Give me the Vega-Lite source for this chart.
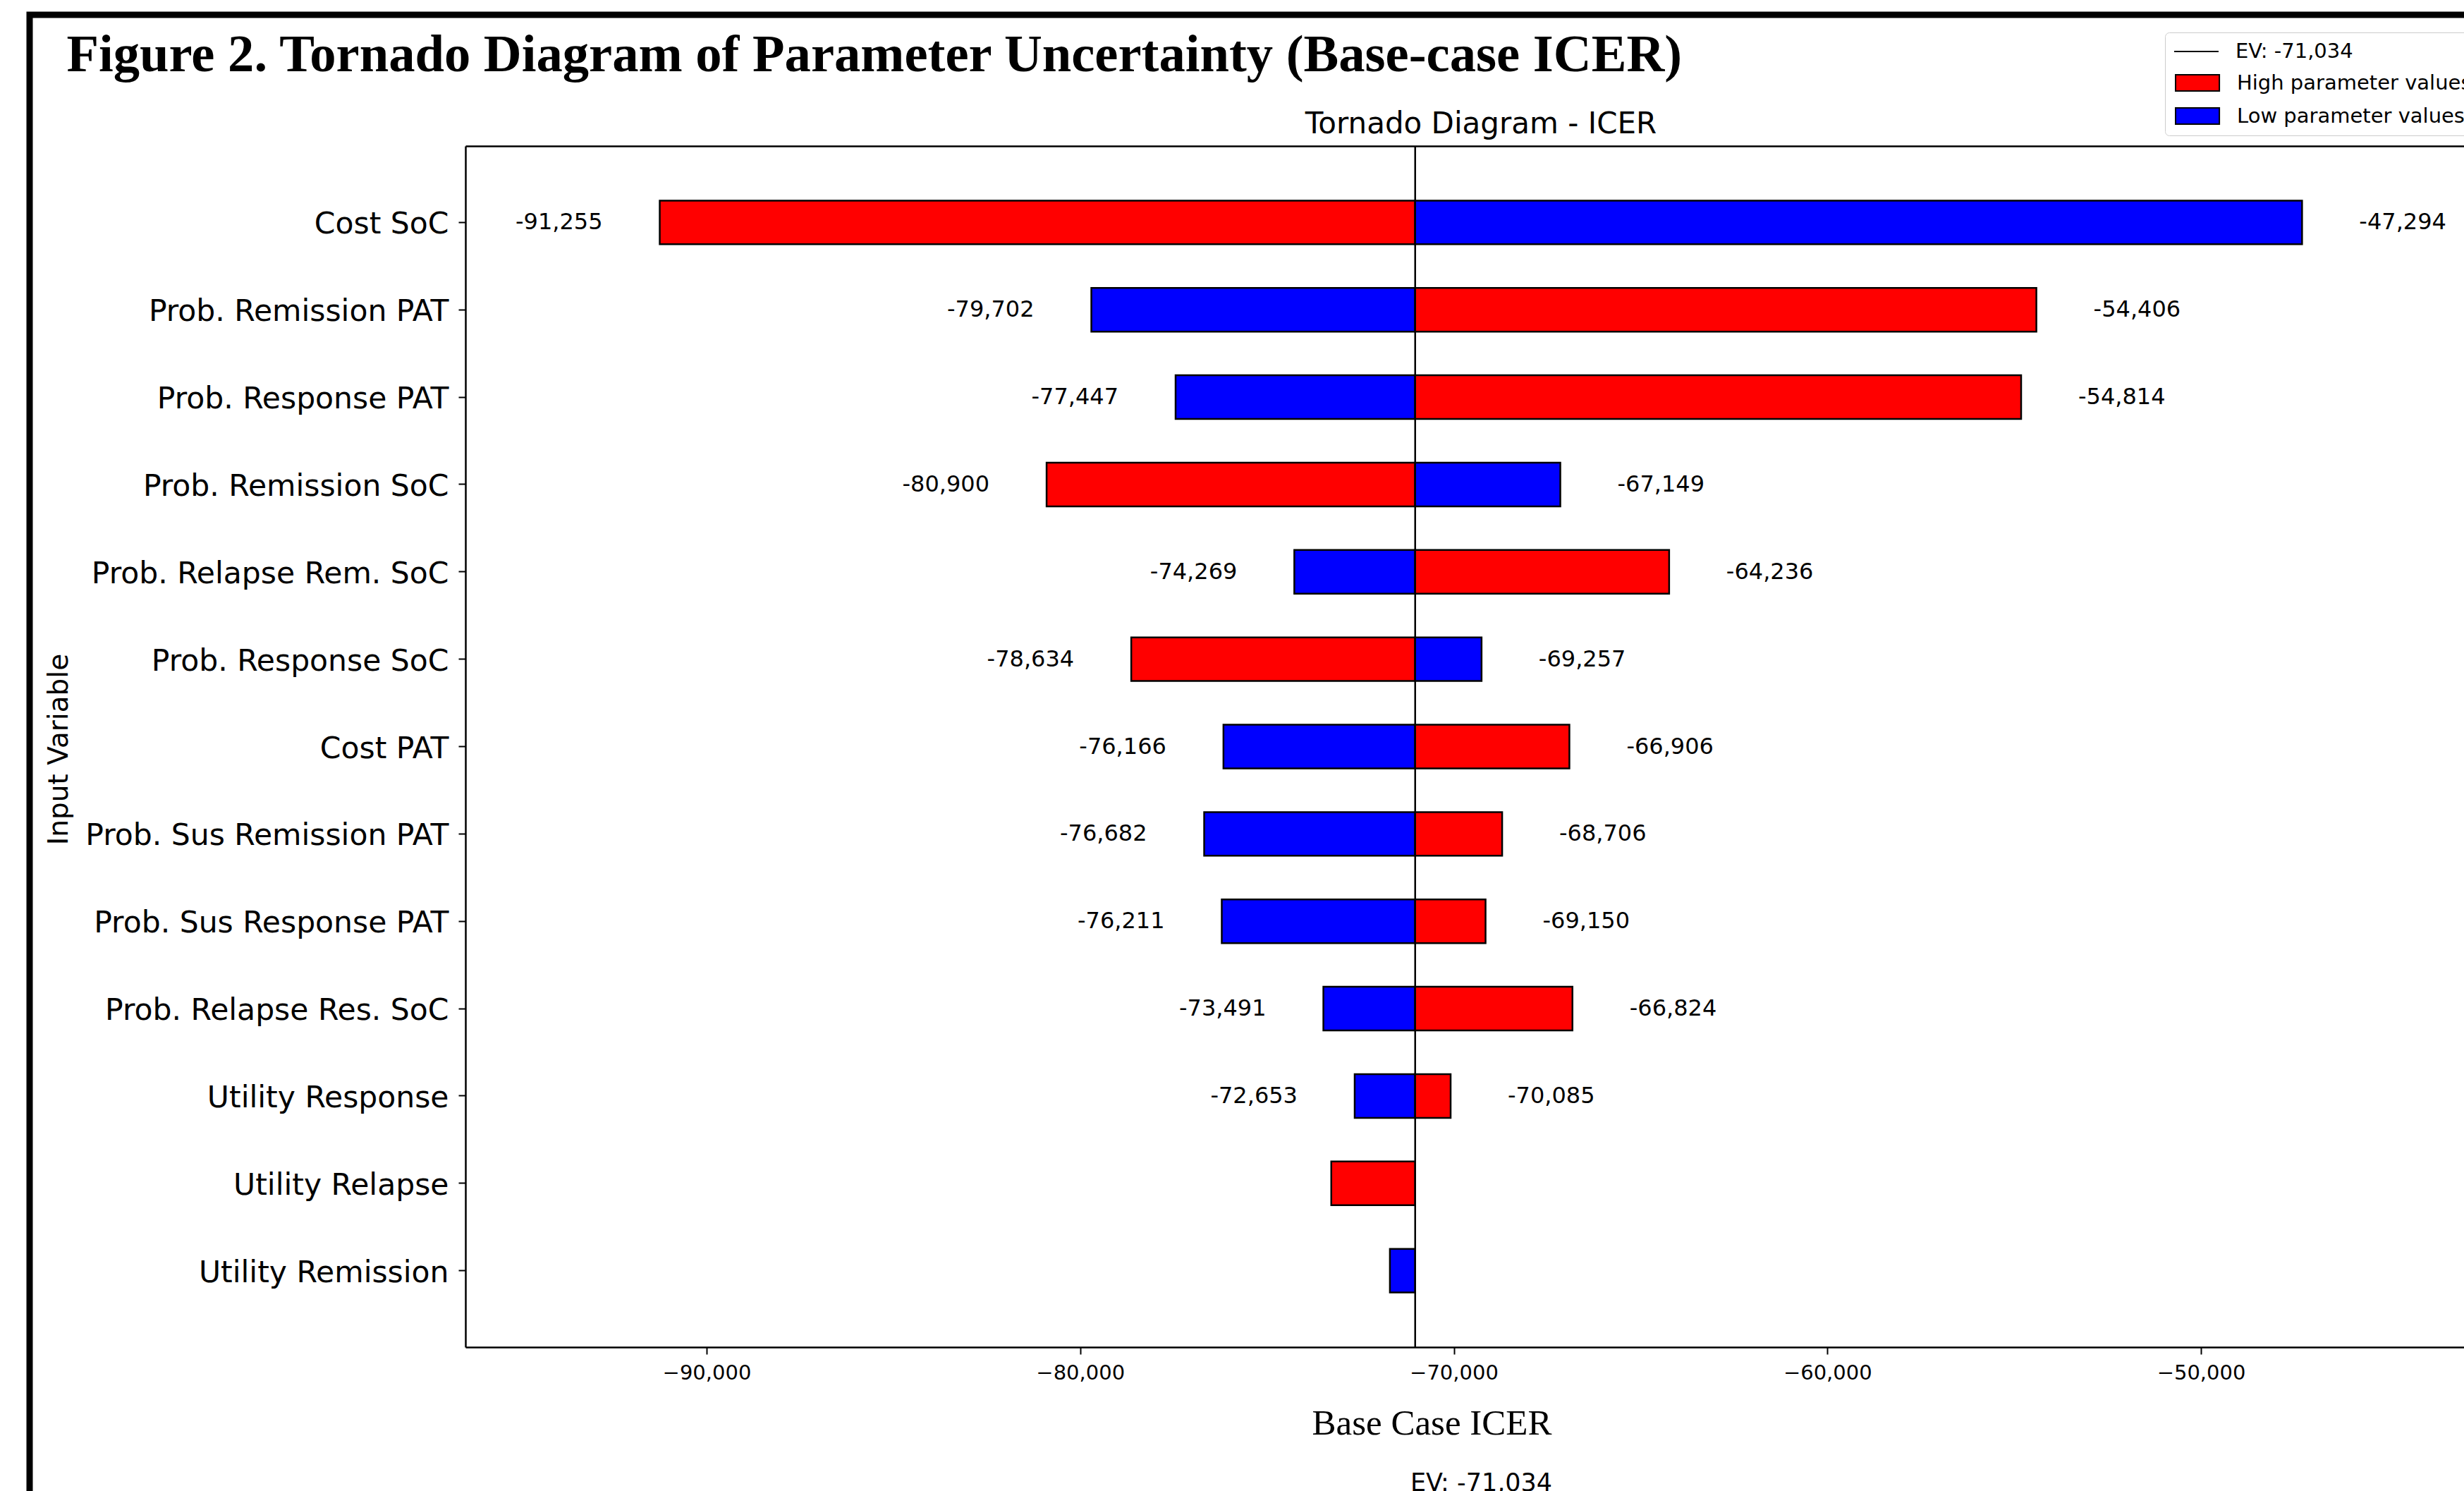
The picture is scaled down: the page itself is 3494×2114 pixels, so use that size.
{
  "$schema": "https://vega.github.io/schema/vega-lite/v6.json",
  "autosize": {"type": "none"},
  "padding": {"left": 42, "top": 21, "right": 0, "bottom": 0},
  "width": 3452,
  "height": 2093,
  "background": "white",
  "config": {
    "view": {"stroke": "black", "strokeWidth": 9, "strokeDash": [3452, 5545], "fill": "white"},
    "axis": {"grid": false, "domainColor": "black", "tickColor": "black", "labelColor": "black", "titleColor": "black", "labelFont": "DejaVu Sans", "titleFont": "DejaVu Sans", "titleFontWeight": "normal"}
  },
  "datasets": {
    "bars": [
      {"param": "Cost SoC", "type": "High parameter values", "value": -91255, "label": "-91,255"},
      {"param": "Cost SoC", "type": "Low parameter values", "value": -47294, "label": "-47,294"},
      {"param": "Prob. Remission PAT", "type": "Low parameter values", "value": -79702, "label": "-79,702"},
      {"param": "Prob. Remission PAT", "type": "High parameter values", "value": -54406, "label": "-54,406"},
      {"param": "Prob. Response PAT", "type": "Low parameter values", "value": -77447, "label": "-77,447"},
      {"param": "Prob. Response PAT", "type": "High parameter values", "value": -54814, "label": "-54,814"},
      {"param": "Prob. Remission SoC", "type": "High parameter values", "value": -80900, "label": "-80,900"},
      {"param": "Prob. Remission SoC", "type": "Low parameter values", "value": -67149, "label": "-67,149"},
      {"param": "Prob. Relapse Rem. SoC", "type": "Low parameter values", "value": -74269, "label": "-74,269"},
      {"param": "Prob. Relapse Rem. SoC", "type": "High parameter values", "value": -64236, "label": "-64,236"},
      {"param": "Prob. Response SoC", "type": "High parameter values", "value": -78634, "label": "-78,634"},
      {"param": "Prob. Response SoC", "type": "Low parameter values", "value": -69257, "label": "-69,257"},
      {"param": "Cost PAT", "type": "Low parameter values", "value": -76166, "label": "-76,166"},
      {"param": "Cost PAT", "type": "High parameter values", "value": -66906, "label": "-66,906"},
      {"param": "Prob. Sus Remission PAT", "type": "Low parameter values", "value": -76682, "label": "-76,682"},
      {"param": "Prob. Sus Remission PAT", "type": "High parameter values", "value": -68706, "label": "-68,706"},
      {"param": "Prob. Sus Response PAT", "type": "Low parameter values", "value": -76211, "label": "-76,211"},
      {"param": "Prob. Sus Response PAT", "type": "High parameter values", "value": -69150, "label": "-69,150"},
      {"param": "Prob. Relapse Res. SoC", "type": "Low parameter values", "value": -73491, "label": "-73,491"},
      {"param": "Prob. Relapse Res. SoC", "type": "High parameter values", "value": -66824, "label": "-66,824"},
      {"param": "Utility Response", "type": "Low parameter values", "value": -72653, "label": "-72,653"},
      {"param": "Utility Response", "type": "High parameter values", "value": -70085, "label": "-70,085"},
      {"param": "Utility Relapse", "type": "High parameter values", "value": -73280, "label": ""},
      {"param": "Utility Remission", "type": "Low parameter values", "value": -71710, "label": ""}
    ],
    "ev": [{"ev": -71034, "name": "EV: -71,034"}]
  },
  "data": {"name": "bars"},
  "resolve": {"scale": {"y": "independent"}, "axis": {"x": "independent", "y": "independent"}},
  "layer": [
    {
      "mark": {"type": "bar", "stroke": "black", "strokeWidth": 2.5},
      "encoding": {
        "x": {
          "field": "value", "type": "quantitative",
          "scale": {"domain": [-96456, -41940], "range": [618, 3506], "zero": false, "nice": false},
          "axis": {"orient": "bottom", "offset": -204, "values": [-90000, -80000, -70000, -60000, -50000], "format": ",.0f", "domainWidth": 2.5, "tickSize": 10, "tickWidth": 2, "labelFontSize": 29, "labelPadding": 12, "title": "Base Case ICER", "titleFont": "Liberation Serif", "titleFontSize": 51, "titleX": 1988, "titleY": 123, "titleBaseline": "alphabetic", "titleAlign": "center"}
        },
        "x2": {"datum": -71034},
        "y": {
          "field": "param", "type": "nominal",
          "scale": {"type": "band", "domain": ["Cost SoC", "Prob. Remission PAT", "Prob. Response PAT", "Prob. Remission SoC", "Prob. Relapse Rem. SoC", "Prob. Response SoC", "Cost PAT", "Prob. Sus Remission PAT", "Prob. Sus Response PAT", "Prob. Relapse Res. SoC", "Utility Response", "Utility Relapse", "Utility Remission"], "range": [186, 1889], "paddingInner": 0.5, "paddingOuter": 0.625},
          "axis": {"orient": "left", "offset": -618, "domainWidth": 2.5, "tickSize": 10, "tickWidth": 2, "labelFontSize": 42.5, "labelPadding": 14, "labelOffset": 3, "labelLimit": 1000, "title": "Input Variable", "titleFontSize": 39, "titleX": -564.5, "titleY": 1041, "titleBaseline": "alphabetic", "titleAlign": "center"}
        },
        "color": {
          "field": "type", "type": "nominal",
          "scale": {"domain": ["High parameter values", "Low parameter values"], "range": ["#ff0000", "#0000ff"]},
          "legend": {
            "title": " ", "titleFontSize": 29, "titlePadding": 16,
            "orient": "none", "legendX": 3028, "legendY": 25,
            "labelFont": "DejaVu Sans", "labelFontSize": 29, "labelColor": "black", "labelLimit": 1000,
            "symbolType": "M-1,-1H4.4V1H-1Z", "symbolSize": 529, "labelOffset": 61, "rowPadding": 16, "padding": 12,
            "symbolStrokeColor": "black", "symbolStrokeWidth": 2, "symbolOpacity": 1,
            "strokeColor": "#cccccc", "fillColor": "white", "cornerRadius": 6
          }
        }
      }
    },
    {
      "transform": [{"filter": "datum.value < -71034 && datum.label != ''"}],
      "mark": {"type": "text", "align": "right", "baseline": "middle", "dx": -81, "font": "DejaVu Sans", "fontSize": 32, "color": "black"},
      "encoding": {
        "x": {"field": "value", "type": "quantitative", "axis": {"orient": "top", "offset": 0, "domain": false, "ticks": false, "labels": false, "title": "Figure 2. Tornado Diagram of Parameter Uncertainty (Base-case ICER)", "titleFont": "Liberation Serif", "titleFontWeight": "bold", "titleFontSize": 74.6, "titleX": 52, "titleY": 79, "titleAlign": "left", "titleBaseline": "alphabetic"}},
        "y": {"field": "param", "type": "nominal", "scale": {"type": "band", "domain": ["Cost SoC", "Prob. Remission PAT", "Prob. Response PAT", "Prob. Remission SoC", "Prob. Relapse Rem. SoC", "Prob. Response SoC", "Cost PAT", "Prob. Sus Remission PAT", "Prob. Sus Response PAT", "Prob. Relapse Res. SoC", "Utility Response", "Utility Relapse", "Utility Remission"], "range": [186, 1889], "paddingInner": 0.5, "paddingOuter": 0.625}, "axis": null},
        "text": {"field": "label"}
      }
    },
    {
      "transform": [{"filter": "datum.value > -71034 && datum.label != ''"}],
      "mark": {"type": "text", "align": "left", "baseline": "middle", "dx": 81, "font": "DejaVu Sans", "fontSize": 32, "color": "black"},
      "encoding": {
        "x": {"field": "value", "type": "quantitative", "axis": null},
        "y": {"field": "param", "type": "nominal", "scale": {"type": "band", "domain": ["Cost SoC", "Prob. Remission PAT", "Prob. Response PAT", "Prob. Remission SoC", "Prob. Relapse Rem. SoC", "Prob. Response SoC", "Cost PAT", "Prob. Sus Remission PAT", "Prob. Sus Response PAT", "Prob. Relapse Res. SoC", "Utility Response", "Utility Relapse", "Utility Remission"], "range": [186, 1889], "paddingInner": 0.5, "paddingOuter": 0.625}, "axis": null},
        "text": {"field": "label"}
      }
    },
    {
      "data": {"name": "ev"},
      "mark": {"type": "rule", "strokeWidth": 2.5, "color": "black"},
      "encoding": {
        "x": {"field": "ev", "type": "quantitative", "axis": {"orient": "top", "offset": -186, "domainWidth": 2.5, "ticks": false, "labels": false, "title": "Tornado Diagram - ICER", "titleFontSize": 42, "titleX": 2057.5, "titleY": -19, "titleBaseline": "alphabetic", "titleAlign": "center"}},
        "y": {"datum": 0, "type": "quantitative", "scale": {"domain": [0, 1], "range": [1889, 186]}, "axis": {"orient": "right", "domain": false, "ticks": false, "labels": false, "title": "EV: -71,034", "titleAngle": 0, "titleFontSize": 35, "titleX": -1394, "titleY": 2092, "titleBaseline": "alphabetic", "titleAlign": "center"}},
        "y2": {"datum": 1},
        "strokeDash": {
          "field": "name", "type": "nominal",
          "scale": {"range": [[1, 0]]},
          "legend": {
            "title": null, "orient": "none", "legendX": 3040, "legendY": 19.5, "padding": 0,
            "symbolType": "stroke", "symbolSize": 3969, "symbolStrokeColor": "black", "symbolStrokeWidth": 2,
            "labelFont": "DejaVu Sans", "labelFontSize": 29, "labelColor": "black", "labelOffset": 23, "labelLimit": 1000
          }
        }
      }
    }
  ]
}
